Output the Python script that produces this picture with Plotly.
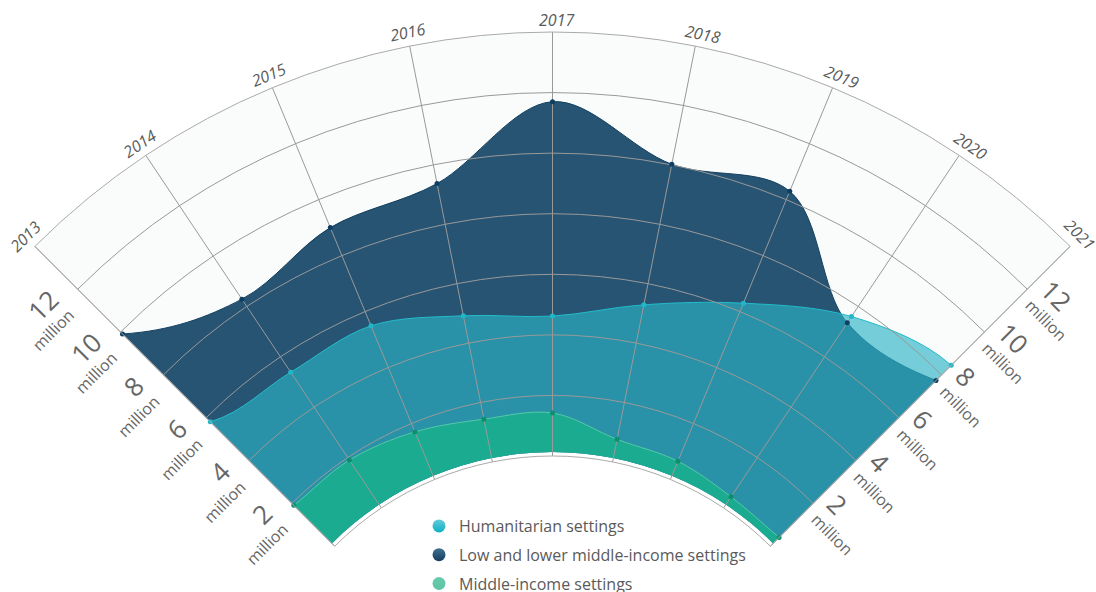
import math
import plotly.graph_objects as go

years = [2013, 2014, 2015, 2016, 2017, 2018, 2019, 2020, 2021]
humanitarian = [5.81, 5.39, 5.49, 4.92, 4.62, 5.29, 6.3, 7.6, 8.45]
low_lower_middle = [9.91, 8.29, 9.0, 9.37, 11.7, 10.02, 10.3, 7.35, 7.74]
middle_income = [1.91, 1.9, 1.7, 1.44, 1.42, 0.76, 0.65, 0.44, 0.41]
radial_ticks = [2, 4, 6, 8, 10, 12]
series_names = ["Humanitarian settings", "Low and lower middle-income settings", "Middle-income settings"]
# off-sector guide values (clipped away): they only set the curve's direction at the two end years
humanitarian_guides = [10, 8]
low_lower_middle_guides = [18, 11]
middle_income_guides = [2.5, 0.8]

W, H, ML, MT = 1096, 764, 9, 32
CX, CY, R_OUT, R_AXIS, R_FILL = 552.5, 764, 732, 308, 312
MAX_V = 14
PER_UNIT = (R_OUT - R_AXIS) / MAX_V
STEP = 90 / (len(years) - 1)
theta = [135 - i * STEP for i in range(len(years))]
FULL = dict(x=[0, 1], y=[0, 1])


def paper(px, py):
    return (px - ML) / (W - ML), 1 - (py - MT) / (H - MT)


fig = go.Figure()


def area(values, guides, line, fill):
    r = [0.14, guides[0]] + values + [guides[1], 0.14]
    th = [180, 135 + STEP] + theta + [45 - STEP, 0]
    fig.add_trace(go.Scatterpolar(r=r, theta=th, mode="lines", fill="toself", fillcolor=fill,
                                  line=dict(color=line, width=1, shape="spline", smoothing=1), cliponaxis=True,
                                  showlegend=False, hoverinfo="skip", subplot="polar"))


area(low_lower_middle, low_lower_middle_guides, "#123f5f", "rgb(39,84,115)")
area(humanitarian, humanitarian_guides, "#22bccb", "rgba(44,179,197,0.65)")
area(middle_income, middle_income_guides, "#55c9a8", "rgb(27,171,145)")

# dots above the grid
for values, col in [(low_lower_middle, "#0e3f62"), (humanitarian, "#20b8c8"), (middle_income, "#0d8f6c")]:
    fig.add_trace(go.Scatterpolar(r=values, theta=theta, mode="markers", marker=dict(color=col, size=5),
                                  cliponaxis=False, showlegend=False, subplot="polar2"))

# legend entries
legend_style = [("#62cbd9", "#0fb0c6"), ("#3f7193", "#173c5c"), ("#68caaa", "#5cc6a4")]
for name, (c1, c2) in zip(series_names, legend_style):
    fig.add_trace(go.Scatterpolar(r=[None], theta=[None], mode="markers", name=name, legendgroup=name,
                                  marker=dict(size=13, color=c1, gradient=dict(type="vertical", color=c2)),
                                  subplot="polar2"))

ann = []
for v in radial_ticks:
    R = R_AXIS + v * PER_UNIT
    d = R * math.sqrt(0.5)
    label = f"<span style='font-size:26px'>{v}</span><br>million"
    for sign, angle, ox, oy, al in [(-1, -45, -36, 30, "right"), (1, 45, 30, 20, "left")]:
        x, y = paper(CX + sign * d + ox, CY - d + oy)
        ann.append(dict(x=x, y=y, xref="paper", yref="paper", text=label, textangle=angle, showarrow=False, align=al,
                        xanchor="center", yanchor="middle", font=dict(family="Open Sans", size=16, color="#666666")))
year_nudges = [(1, 0)] * 4 + [(4, 2)] * 4 + [(-1, -2)]
for yr, t, (nudge_x, nudge_y) in zip(years, theta, year_nudges):
    a = math.radians(t)
    x, y = paper(CX + 746 * math.cos(a) + nudge_x, CY - 746 * math.sin(a) + nudge_y)
    ann.append(dict(x=x, y=y, xref="paper", yref="paper", text=f"<i>{yr}</i>", textangle=90 - t,
                    showarrow=False, xanchor="center", yanchor="middle",
                    font=dict(family="Open Sans", size=16, color="#5a5a5a")))

fig.update_layout(
    width=W, height=H, margin=dict(l=ML, r=0, t=MT, b=0), paper_bgcolor="white",
    font=dict(family="Open Sans", color="#5a5a5a"),
    polar=dict(
        domain=FULL, sector=[45, 135], hole=R_FILL / R_OUT, bgcolor="#fafbfb",
        radialaxis=dict(range=[(R_FILL - R_AXIS) / PER_UNIT, MAX_V], visible=False),
        angularaxis=dict(visible=False, thetaunit="degrees"),
    ),
    polar2=dict(
        domain=FULL, sector=[45, 135], hole=R_AXIS / R_OUT, bgcolor="rgba(0,0,0,0)",
        radialaxis=dict(range=[0, MAX_V], tickvals=radial_ticks + [MAX_V], showticklabels=False,
                        ticks="", showline=False, gridcolor="#999999", gridwidth=1, angle=135),
        angularaxis=dict(tickvals=theta, showticklabels=False, ticks="", showline=True, linecolor="#aaaaaa", linewidth=1,
                         gridcolor="#999999", gridwidth=1, thetaunit="degrees"),
    ),
    legend=dict(x=paper(419, 0)[0], xanchor="left", y=paper(0, 509)[1], yanchor="top", bgcolor="rgba(0,0,0,0)",
                font=dict(family="Open Sans", size=16, color="#5a5a5a"), tracegroupgap=5, traceorder="grouped"),
    annotations=ann,
)

crop = ("document.documentElement.style.overflow='hidden';document.documentElement.style.height='592px';"
        "document.body.style.margin='0';document.body.style.height='592px';document.body.style.overflow='hidden';")
fig.write_html("out.html", post_script=crop, config={"displayModeBar": False})
